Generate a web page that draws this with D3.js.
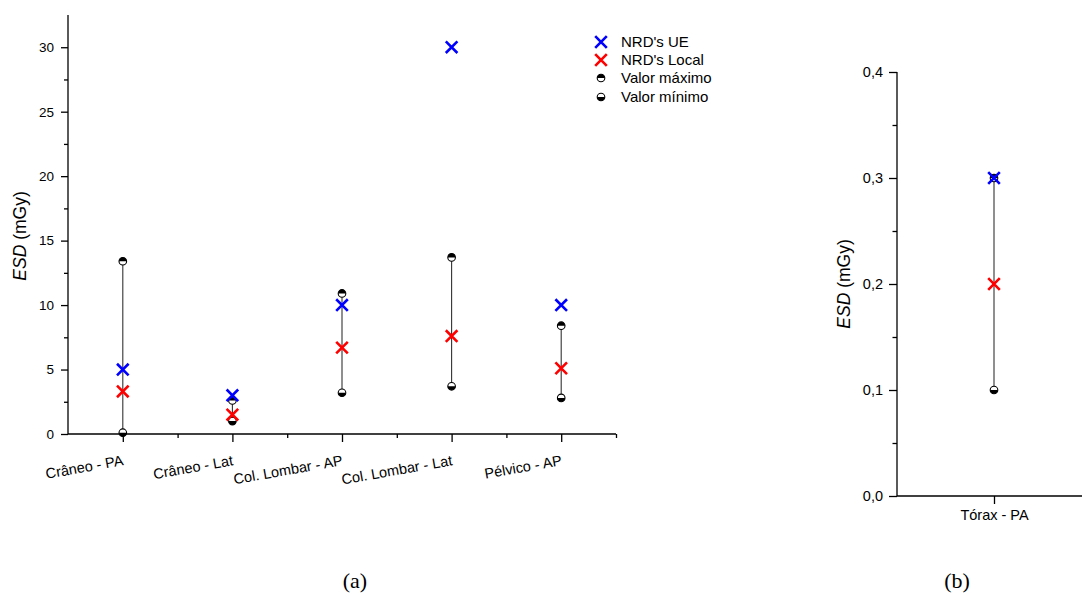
<!DOCTYPE html>
<html>
<head>
<meta charset="utf-8">
<script src="https://cdn.jsdelivr.net/npm/d3@7"></script>
<style>
body{margin:0;background:#fff;}
svg{display:block;font-family:"Liberation Sans",Arial,sans-serif;}
</style>
</head>
<body>
<svg id="c" width="1082" height="594"></svg>
<script>
// ---- data (a) ----
const categoriesA = ["Crâneo - PA","Crâneo - Lat","Col. Lombar - AP","Col. Lombar - Lat","Pélvico - AP"];
const nrdUE_A    = [5, 3, 10, 30, 10];
const nrdLocal_A = [3.3, 1.5, 6.7, 7.6, 5.1];
const maxA       = [13.4, 2.6, 10.9, 13.7, 8.4];
const minA       = [0.1, 1.0, 3.2, 3.7, 2.8];
const yTicksA    = [0, 5, 10, 15, 20, 25, 30];
// ---- data (b) ----
const categoriesB = ["Tórax - PA"];
const nrdUE_B    = [0.3];
const nrdLocal_B = [0.2];
const maxB       = [0.3];
const minB       = [0.1];
const yTicksB    = [0, 0.1, 0.2, 0.3, 0.4];
const legendLabels = ["NRD's UE","NRD's Local","Valor máximo","Valor mínimo"];

const svg = d3.select("#c");

function xMark(g, x, y, color){
  const s = 5.8;
  g.append("path")
    .attr("d",`M${x-s},${y-s}L${x+s},${y+s}M${x-s},${y+s}L${x+s},${y-s}`)
    .attr("stroke",color).attr("stroke-width",2.6).attr("fill","none");
}
function halfCircle(g, x, y, topFilled){
  const r = 3.8;
  g.append("circle").attr("cx",x).attr("cy",y).attr("r",r)
    .attr("fill","#fff").attr("stroke","#000").attr("stroke-width",1.1);
  const d = topFilled
    ? `M${x-r},${y}A${r},${r} 0 0 1 ${x+r},${y}Z`
    : `M${x-r},${y}A${r},${r} 0 0 0 ${x+r},${y}Z`;
  g.append("path").attr("d",d).attr("fill","#000");
}

function panel(opts){
  const g = svg.append("g");
  const x = d3.scaleLinear().domain([0, opts.cats.length]).range(opts.xr);
  const y = d3.scaleLinear().domain(opts.yd).range(opts.yr);
  const ff = "'Liberation Sans',Arial,sans-serif";
  // y axis
  const ya = g.append("g").attr("transform",`translate(${opts.xr[0]},0)`)
    .call(d3.axisLeft(y).tickValues(opts.yticks).tickSize(opts.yMajor).tickPadding(opts.yPad).tickFormat(opts.fmt));
  ya.select(".domain").attr("d",`M0,${opts.yr[0]}V${opts.yr[1]}`).attr("stroke-width",1.3);
  ya.selectAll(".tick line").attr("stroke-width",1.3);
  ya.selectAll("text").attr("font-size",opts.yFont).attr("fill","#000").style("font-family",ff);
  g.append("g").attr("transform",`translate(${opts.xr[0]},0)`)
    .call(d3.axisLeft(y).tickValues(opts.minor).tickSize(opts.yMinor).tickFormat(""))
    .call(s=>s.select(".domain").remove())
    .selectAll("line").attr("stroke-width",1.3);
  // x axis
  const centers = opts.cats.map((c,i)=>i+0.5);
  const xa = g.append("g").attr("transform",`translate(0,${opts.yr[0]})`)
    .call(d3.axisBottom(x).tickValues(centers).tickSize(8).tickFormat((d,i)=>opts.cats[i]));
  xa.select(".domain").attr("d",`M${opts.xr[0]},0H${opts.xr[1]}`).attr("stroke-width",1.3);
  xa.selectAll(".tick line").attr("stroke-width",1.3);
  const txt = xa.selectAll(".tick text").attr("font-size",14.5).attr("fill","#000").style("font-family",ff);
  if(opts.rotate){
    txt.attr("text-anchor","end").attr("y",0).attr("dy","0.71em")
      .attr("transform","translate(-1,21) rotate(-10)");
  } else {
    txt.attr("y",14);
  }
  const mt = d3.range(1, opts.cats.length+1).filter(v=>v<=opts.xd);
  if(mt.length){
    g.append("g").attr("transform",`translate(0,${opts.yr[0]})`)
      .call(d3.axisBottom(x).tickValues(mt).tickSize(4).tickFormat(""))
      .call(s=>s.select(".domain").remove())
      .selectAll("line").attr("stroke-width",1.3);
  }
  // range lines
  const m = g.append("g");
  opts.cats.forEach((c,i)=>{
    const cx = x(i+0.5);
    m.append("line").attr("x1",cx).attr("x2",cx)
      .attr("y1",y(opts.min[i])).attr("y2",y(opts.max[i]))
      .attr("stroke","#333").attr("stroke-width",1.1);
  });
  opts.cats.forEach((c,i)=>{
    const cx = x(i+0.5);
    halfCircle(m, cx, y(opts.max[i]), true);
    halfCircle(m, cx, y(opts.min[i]), false);
  });
  opts.cats.forEach((c,i)=>{
    const cx = x(i+0.5);
    xMark(m, cx, y(opts.local[i]), "#ff0000");
    xMark(m, cx, y(opts.ue[i]), "#0000ff");
  });
  // y title
  const t = g.append("text")
    .attr("transform",`translate(${opts.titleX},${opts.titleY}) rotate(-90)`)
    .attr("text-anchor","middle").attr("font-size",17.5).attr("fill","#000");
  t.append("tspan").attr("font-style","italic").text("ESD");
  t.append("tspan").text(" (mGy)");
  return {x,y};
}

panel({cats:categoriesA, ue:nrdUE_A, local:nrdLocal_A, max:maxA, min:minA,
  xr:[68,616], xd:5, yd:[0,32.5], yr:[434,15], yticks:yTicksA,
  minor:[2.5,7.5,12.5,17.5,22.5,27.5], fmt:d3.format("d"), rotate:true,
  yMajor:7, yMinor:4, yPad:7, yFont:13.5,
  titleX:26, titleY:236});

panel({cats:categoriesB, ue:nrdUE_B, local:nrdLocal_B, max:maxB, min:minB,
  xr:[897,1091], xd:0, yd:[0,0.4], yr:[496,72], yticks:yTicksB,
  minor:[0.05,0.15,0.25,0.35], fmt:d=>d3.format(".1f")(d).replace(".",","), rotate:false,
  yMajor:8, yMinor:4.5, yPad:6, yFont:14.5,
  titleX:850, titleY:284});

// legend
const lg = svg.append("g");
const ly = [42,60,78,97];
xMark(lg, 601, ly[0], "#0000ff");
xMark(lg, 601, ly[1], "#ff0000");
halfCircle(lg, 601, ly[2], true);
halfCircle(lg, 601, ly[3], false);
legendLabels.forEach((l,i)=>{
  lg.append("text").attr("x",621).attr("y",ly[i]).attr("dy","0.36em")
    .attr("font-size",15).attr("fill","#000").text(l);
});

// captions
svg.append("text").attr("x",355).attr("y",588).attr("text-anchor","middle")
  .attr("font-size",22).style("font-family","'Liberation Serif','DejaVu Serif',serif").text("(a)");
svg.append("text").attr("x",957).attr("y",588).attr("text-anchor","middle")
  .attr("font-size",22).style("font-family","'Liberation Serif','DejaVu Serif',serif").text("(b)");
</script>
</body>
</html>
